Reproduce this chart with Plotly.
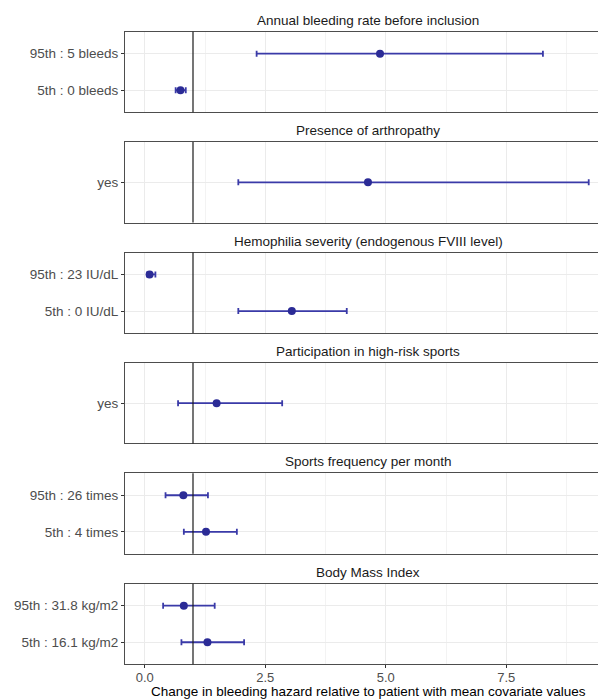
import plotly.graph_objects as go

# ---- data ----
panel_titles = [
    "Annual bleeding rate before inclusion",
    "Presence of arthropathy",
    "Hemophilia severity (endogenous FVIII level)",
    "Participation in high-risk sports",
    "Sports frequency per month",
    "Body Mass Index",
]
# labels listed bottom -> top
labels_1 = ["5th : 0 bleeds", "95th : 5 bleeds"]
est_1 = [0.74, 4.88]
lo_1 = [0.64, 2.32]
hi_1 = [0.85, 8.26]

labels_2 = ["yes"]
est_2 = [4.63]
lo_2 = [1.94]
hi_2 = [9.21]

labels_3 = ["5th : 0 IU/dL", "95th : 23 IU/dL"]
est_3 = [3.05, 0.10]
lo_3 = [1.94, 0.05]
hi_3 = [4.19, 0.22]

labels_4 = ["yes"]
est_4 = [1.49]
lo_4 = [0.69]
hi_4 = [2.85]

labels_5 = ["5th : 4 times", "95th : 26 times"]
est_5 = [1.27, 0.80]
lo_5 = [0.81, 0.43]
hi_5 = [1.91, 1.31]

labels_6 = ["5th : 16.1 kg/m2", "95th : 31.8 kg/m2"]
est_6 = [1.30, 0.81]
lo_6 = [0.76, 0.38]
hi_6 = [2.06, 1.45]

x_ticks = [0.0, 2.5, 5.0, 7.5]
x_tick_text = ["0.0", "2.5", "5.0", "7.5"]
ref_value = 1.0
x_title = "Change in bleeding hazard relative to patient with mean covariate values"

panels = [
    (labels_1, est_1, lo_1, hi_1),
    (labels_2, est_2, lo_2, hi_2),
    (labels_3, est_3, lo_3, hi_3),
    (labels_4, est_4, lo_4, hi_4),
    (labels_5, est_5, lo_5, hi_5),
    (labels_6, est_6, lo_6, hi_6),
]

# ---- layout geometry ----
W, H = 598, 700
ML = 125
x_px0 = 144.8   # pixel of x = 0
x_scale = 48.2  # px per unit
x_range = [(ML - x_px0) / x_scale, (W - x_px0) / x_scale]

panel_h = 80.5
step = 110.4
top0 = 31.7

FONT = "Liberation Sans, Arial, Helvetica, sans-serif"
PT_COL = "#2b2b96"
BAR_COL = "#3a3aa8"

fig = go.Figure()
shapes = []
annotations = []
n = len(panels)
for i, (labs, est, lo, hi) in enumerate(panels):
    k = i + 1
    xa = "x" if k == 1 else f"x{k}"
    ya = "y" if k == 1 else f"y{k}"
    top = top0 + i * step
    bot = top + panel_h
    dom = [1 - bot / H, 1 - top / H]
    pos = list(range(1, len(labs) + 1))
    fig.add_trace(go.Scatter(
        x=est, y=pos, mode="markers",
        marker=dict(color=PT_COL, size=8),
        error_x=dict(type="data", symmetric=False,
                     array=[h - e for h, e in zip(hi, est)],
                     arrayminus=[e - l for e, l in zip(est, lo)],
                     color=BAR_COL, thickness=1.8, width=3),
        xaxis=xa, yaxis=ya, showlegend=False, hoverinfo="skip",
    ))
    last = (k == n)
    fig.layout[f"xaxis{'' if k == 1 else k}"] = dict(
        domain=[0, 1], range=x_range, anchor=ya,
        tickvals=x_ticks, ticktext=x_tick_text,
        showticklabels=last, ticks="outside" if last else "",
        ticklen=3, tickcolor="#333333", tickwidth=1,
        ticklabelstandoff=-2,
        tickfont=dict(family=FONT, size=13, color="#4d4d4d"),
        showgrid=True, gridcolor="#ebebeb", gridwidth=1.1,
        minor=dict(tickvals=[1.25, 3.75, 6.25, 8.75], showgrid=True,
                   gridcolor="#f3f3f3", gridwidth=0.8, ticks=""),
        showline=True, mirror=True, linecolor="#4d4d4d", linewidth=1.1,
        zeroline=False, fixedrange=True,
    )
    fig.layout[f"yaxis{'' if k == 1 else k}"] = dict(
        domain=dom, range=[0.4, len(labs) + 0.6], anchor=xa,
        tickvals=pos, ticktext=labs,
        ticks="outside", ticklen=3, tickcolor="#333333", tickwidth=1,
        tickfont=dict(family=FONT, size=13.5, color="#4d4d4d"),
        showgrid=True, gridcolor="#ebebeb", gridwidth=1.1,
        showline=True, mirror=False, linecolor="#4d4d4d", linewidth=1.1,
        zeroline=False, fixedrange=True,
    )
    shapes.append(dict(type="line", xref=xa, yref=f"{ya} domain",
                       x0=ref_value, x1=ref_value, y0=0, y1=1,
                       line=dict(color="#1a1a1a", width=1.2), layer="above"))
    annotations.append(dict(text=panel_titles[i], xref="paper", yref="paper",
                            x=(368 - ML) / (W - ML), y=1 - (top - 11.5) / H,
                            xanchor="center", yanchor="middle", showarrow=False,
                            font=dict(family=FONT, size=13.5, color="#1a1a1a")))

annotations.append(dict(text=x_title, xref="paper", yref="paper",
                        x=(368 - ML) / (W - ML), y=1 - 691.5 / H,
                        xanchor="center", yanchor="middle", showarrow=False,
                        font=dict(family=FONT, size=13.5, color="#000000")))

fig.update_layout(
    width=W, height=H,
    margin=dict(l=ML, r=0, t=0, b=0),
    paper_bgcolor="white", plot_bgcolor="white",
    shapes=shapes, annotations=annotations,
    showlegend=False,
)

fig.write_html("out.html",
               config={"displayModeBar": False},
               post_script="document.body.style.margin='0px';"
                           "document.body.style.overflow='hidden';")
